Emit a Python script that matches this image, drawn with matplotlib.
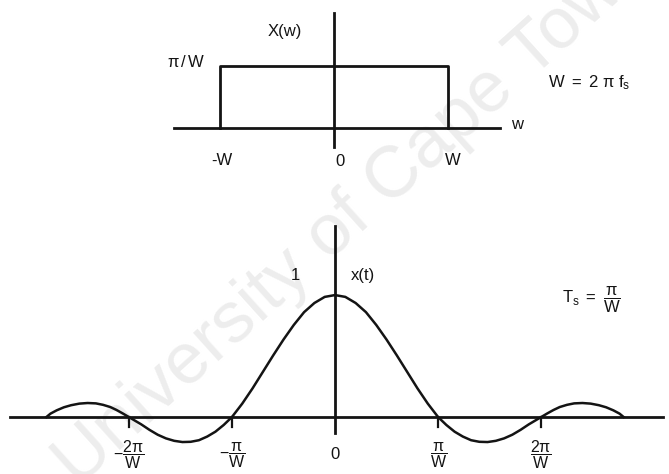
import numpy as np
import matplotlib.pyplot as plt

plt.rcParams['font.family'] = ['Liberation Sans', 'DejaVu Sans']
plt.rcParams['mathtext.fontset'] = 'custom'
plt.rcParams['mathtext.rm'] = 'Liberation Sans'
plt.rcParams['mathtext.it'] = 'Liberation Sans'
plt.rcParams['mathtext.bf'] = 'Liberation Sans:bold'

INK = '#141414'
FS = 12

# spectrum X(w): rectangle of height pi/W between -W and W (W = 1)
rect_w = [-1.0, -1.0, 1.0, 1.0]
rect_h = [0.0, 1.0, 1.0, 0.0]

t_half = [0.0, 0.1, 0.2, 0.3, 0.4, 0.5, 0.6, 0.7, 0.8, 0.9, 1.0,
          1.08, 1.16, 1.24, 1.32, 1.4, 1.48, 1.56, 1.64, 1.72, 1.8, 1.88, 1.95, 2.0,
          2.06, 2.12, 2.18, 2.25, 2.32, 2.4, 2.48, 2.56, 2.63, 2.7, 2.76, 2.8]
x_half = [1.0, 0.985, 0.935, 0.86, 0.755, 0.635, 0.505, 0.37, 0.235, 0.11, 0.0,
          -0.065, -0.12, -0.16, -0.19, -0.203, -0.205, -0.195, -0.175, -0.145, -0.105, -0.06, -0.025, 0.0,
          0.03, 0.058, 0.082, 0.1, 0.112, 0.115, 0.11, 0.097, 0.08, 0.055, 0.028, 0.0]

tick_pos = [-2, -1, 1, 2]
tick_lab = [r'$-\dfrac{2\pi}{\mathrm{W}}$', r'$-\dfrac{\pi}{\mathrm{W}}$',
            r'$\dfrac{\pi}{\mathrm{W}}$', r'$\dfrac{2\pi}{\mathrm{W}}$']

t = np.concatenate([-np.array(t_half[::-1]), np.array(t_half[1:])])
x = np.concatenate([np.array(x_half[::-1]), np.array(x_half[1:])])

fig = plt.figure(figsize=(6.69, 4.74), dpi=100)
fig.text(0.53, 0.55, 'University of Cape Town', rotation=42, fontsize=52,
         color='#ededed', ha='center', va='center', zorder=-1)

# ---- top: X(w)
ax1 = fig.add_axes([0, 0.58, 1, 0.42])
ax1.set_xlim(-2.93, 2.94)
ax1.set_ylim(-1.15, 2.06)
ax1.plot([-1.40, 1.46], [0, 0], color=INK, lw=2)
ax1.plot([0, 0], [-0.31, 1.85], color=INK, lw=2)
ax1.plot(rect_w, rect_h, color=INK, lw=2)
ax1.text(-0.43, 1.55, 'X(w)', fontsize=FS, color=INK, ha='center', va='center')
ax1.text(-1.13, 1.06, r'$\pi\,/\,\mathrm{W}$', fontsize=FS, color=INK, ha='right', va='center')
ax1.text(-0.98, -0.52, '-W', fontsize=FS, color=INK, ha='center', va='center')
ax1.text(0.05, -0.55, '0', fontsize=FS, color=INK, ha='center', va='center')
ax1.text(1.04, -0.52, 'W', fontsize=FS, color=INK, ha='center', va='center')
ax1.text(1.61, 0.05, 'w', fontsize=FS, color=INK, ha='center', va='center')
ax1.text(1.88, 0.73, r'$\mathrm{W\ =\ 2\ \pi\ f_s}$', fontsize=FS, color=INK,
         ha='left', va='center')
ax1.axis('off')

# ---- bottom: x(t)
ax2 = fig.add_axes([0, 0, 1, 0.58])
ax2.set_xlim(-3.25, 3.24)
ax2.set_ylim(-0.467, 1.787)
ax2.plot([-3.15, 3.18], [0, 0], color=INK, lw=2)
ax2.plot([0, 0], [-0.13, 1.57], color=INK, lw=2)
ax2.plot(t, x, color=INK, lw=1.8)
for p, lab in zip(tick_pos, tick_lab):
    ax2.plot([p, p], [0, -0.08], color=INK, lw=1.6)
    ax2.text(p, -0.31, lab, fontsize=11.5, color=INK, ha='center', va='center')
ax2.text(0, -0.31, '0', fontsize=FS, color=INK, ha='center', va='center')
ax2.text(-0.38, 1.16, '1', fontsize=FS, color=INK, ha='center', va='center')
ax2.text(0.15, 1.16, 'x(t)', fontsize=FS, color=INK, ha='left', va='center')
ax2.text(2.2, 0.96, r'$\mathrm{T_s}\ =\ \dfrac{\pi}{\mathrm{W}}$', fontsize=FS,
         color=INK, ha='left', va='center')
ax2.axis('off')

fig.savefig('out.png', dpi=100)
